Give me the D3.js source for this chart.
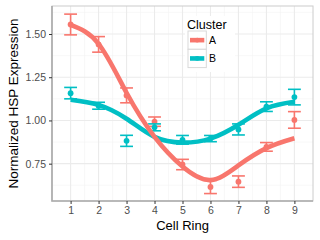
<!DOCTYPE html>
<html>
<head>
<meta charset="utf-8">
<script src="https://cdn.jsdelivr.net/npm/d3@7"></script>
<style>
  body { margin: 0; background: #fff; }
  svg { display: block; font-family: "Liberation Sans", Arial, sans-serif; }
</style>
</head>
<body>
<svg id="chart"></svg>
<script>
// values
var rings = [1, 2, 3, 4, 5, 6, 7, 8, 9];
var clusters = ["A", "B"];
var colors = ["#F8766D", "#00BFC4"];

// mean and standard error per ring
var meanA = [1.555, 1.44, 1.145, 0.993, 0.745, 0.615, 0.646, 0.847, 1.003];
var seA   = [0.06, 0.045, 0.043, 0.027, 0.03, 0.038, 0.033, 0.025, 0.048];
var meanB = [1.158, 1.085, 0.882, 0.96, 0.888, 0.895, 0.948, 1.08, 1.135];
var seB   = [0.033, 0.02, 0.032, 0.02, 0.025, 0.018, 0.032, 0.028, 0.045];

// smoothed fit, read at each ring
var fitA = [1.553, 1.443, 1.16, 0.905, 0.733, 0.655, 0.74, 0.84, 0.897];
var fitB = [1.12, 1.09, 1.01, 0.905, 0.872, 0.895, 0.975, 1.07, 1.108];

var yTicks = [0.75, 1.00, 1.25, 1.50];
var yMinor = [0.625, 0.875, 1.125, 1.375, 1.625];
var xMinor = [1.5, 2.5, 3.5, 4.5, 5.5, 6.5, 7.5, 8.5];

var width = 320, height = 240;
var margin = { top: 6, right: 7, bottom: 39, left: 52 };

var svg = d3.select('#chart')
    .attr('width', width)
    .attr('height', height);

var x = d3.scaleLinear()
    .domain([0.335, 9.665])
    .range([margin.left, width - margin.right]);

var y = d3.scaleLinear()
    .domain([0.534, 1.662])
    .range([height - margin.bottom, margin.top]);

var x0 = margin.left, x1 = width - margin.right;
var y0 = height - margin.bottom, y1 = margin.top;

// grid
var grid = svg.append('g');
grid.selectAll('.ymin').data(yMinor).enter().append('line')
    .attr('x1', x0).attr('x2', x1)
    .attr('y1', function (d) { return y(d); }).attr('y2', function (d) { return y(d); })
    .attr('stroke', '#f4f4f4').attr('stroke-width', 0.6);
grid.selectAll('.xmin').data(xMinor).enter().append('line')
    .attr('y1', y0).attr('y2', y1)
    .attr('x1', function (d) { return x(d); }).attr('x2', function (d) { return x(d); })
    .attr('stroke', '#f4f4f4').attr('stroke-width', 0.6);
grid.selectAll('.ymaj').data(yTicks).enter().append('line')
    .attr('x1', x0).attr('x2', x1)
    .attr('y1', function (d) { return y(d); }).attr('y2', function (d) { return y(d); })
    .attr('stroke', '#ebebeb').attr('stroke-width', 1.1);
grid.selectAll('.xmaj').data(rings).enter().append('line')
    .attr('y1', y0).attr('y2', y1)
    .attr('x1', function (d) { return x(d); }).attr('x2', function (d) { return x(d); })
    .attr('stroke', '#ebebeb').attr('stroke-width', 1.1);

// series
var series = clusters.map(function (c, i) {
    var mean = i === 0 ? meanA : meanB;
    var se = i === 0 ? seA : seB;
    var fit = i === 0 ? fitA : fitB;
    return {
        name: c,
        color: colors[i],
        points: rings.map(function (r, j) { return { x: r, m: mean[j], se: se[j], f: fit[j] }; })
    };
});

var line = d3.line()
    .x(function (d) { return x(d.x); })
    .y(function (d) { return y(d.f); })
    .curve(d3.curveNatural);

var capHalf = 0.23;

// error bars and points
series.forEach(function (s) {
    var g = svg.append('g');
    g.selectAll('line.v').data(s.points).enter().append('line')
        .attr('x1', function (d) { return x(d.x); }).attr('x2', function (d) { return x(d.x); })
        .attr('y1', function (d) { return y(d.m - d.se); }).attr('y2', function (d) { return y(d.m + d.se); })
        .attr('stroke', s.color).attr('stroke-width', 1.6);
    [1, -1].forEach(function (sign) {
        g.selectAll('line.c' + sign).data(s.points).enter().append('line')
            .attr('x1', function (d) { return x(d.x - capHalf); }).attr('x2', function (d) { return x(d.x + capHalf); })
            .attr('y1', function (d) { return y(d.m + sign * d.se); }).attr('y2', function (d) { return y(d.m + sign * d.se); })
            .attr('stroke', s.color).attr('stroke-width', 1.6);
    });
    g.selectAll('circle').data(s.points).enter().append('circle')
        .attr('cx', function (d) { return x(d.x); })
        .attr('cy', function (d) { return y(d.m); })
        .attr('r', 2.9)
        .attr('fill', s.color);
});

// smooth lines, B under A
series.slice().reverse().forEach(function (s) {
    svg.append('path')
        .datum(s.points)
        .attr('fill', 'none')
        .attr('stroke', s.color)
        .attr('stroke-width', 4.6)
        .attr('stroke-linecap', 'butt')
        .attr('d', line);
});

// panel border
svg.append('rect')
    .attr('x', x0).attr('y', y1)
    .attr('width', x1 - x0).attr('height', y0 - y1)
    .attr('fill', 'none').attr('stroke', '#cccccc').attr('stroke-width', 1);
svg.append('path')
    .attr('d', 'M' + x0 + ',' + y1 + 'V' + y0 + 'H' + x1)
    .attr('fill', 'none').attr('stroke', '#aaaaaa').attr('stroke-width', 1.6);

// axes
var xAxis = svg.append('g')
    .attr('transform', 'translate(0,' + y0 + ')')
    .call(d3.axisBottom(x).tickValues(rings).tickFormat(d3.format('d')).tickSize(3).tickPadding(3));
var yAxis = svg.append('g')
    .attr('transform', 'translate(' + x0 + ',0)')
    .call(d3.axisLeft(y).tickValues(yTicks).tickFormat(d3.format('.2f')).tickSize(3).tickPadding(3));
[xAxis, yAxis].forEach(function (a) {
    a.select('.domain').remove();
    a.selectAll('.tick line').attr('stroke', '#333').attr('stroke-width', 1);
    a.selectAll('.tick text').attr('fill', '#4d4d4d').style('font-size', '10.5px')
        .style('font-family', '"Liberation Sans", Arial, sans-serif');
});

// axis titles
svg.append('text')
    .attr('x', (x0 + x1) / 2).attr('y', 230)
    .attr('text-anchor', 'middle')
    .style('font-size', '13px').attr('fill', '#000')
    .text('Cell Ring');
svg.append('text')
    .attr('transform', 'translate(18,' + ((y0 + y1) / 2) + ') rotate(-90)')
    .attr('text-anchor', 'middle')
    .style('font-size', '13.5px').attr('fill', '#000')
    .text('Normalized HSP Expression');

// legend
var legend = svg.append('g').attr('transform', 'translate(186,16)');
legend.append('rect')
    .attr('x', -1).attr('y', 0).attr('width', 50).attr('height', 56)
    .attr('fill', '#fff');
legend.append('text')
    .attr('x', 1).attr('y', 13)
    .style('font-size', '12.5px').attr('fill', '#000')
    .text('Cluster');
var keys = legend.selectAll('g.key').data(series).enter().append('g')
    .attr('transform', function (d, i) { return 'translate(2,' + (15 + i * 18.3) + ')'; });
keys.append('rect')
    .attr('width', 18.3).attr('height', 18.3)
    .attr('fill', '#fff').attr('stroke', '#d9d9d9').attr('stroke-width', 1);
keys.append('line')
    .attr('x1', 2).attr('x2', 16.3).attr('y1', 9.15).attr('y2', 9.15)
    .attr('stroke', function (d) { return d.color; }).attr('stroke-width', 4.6);
keys.append('circle')
    .attr('cx', 9.15).attr('cy', 9.15).attr('r', 2.4)
    .attr('fill', function (d) { return d.color; });
keys.append('text')
    .attr('x', 21).attr('y', 13)
    .style('font-size', '10.5px').attr('fill', '#000')
    .text(function (d) { return d.name; });
</script>
</body>
</html>
